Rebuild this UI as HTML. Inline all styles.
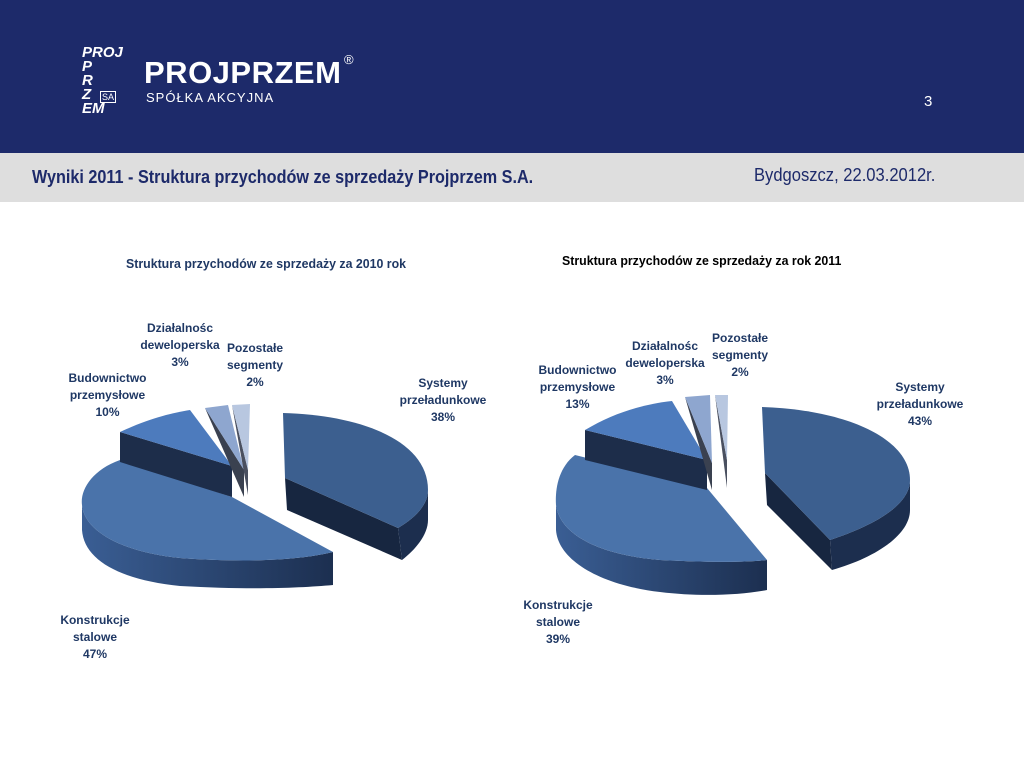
<!DOCTYPE html>
<html><head><meta charset="utf-8"><style>
body{margin:0;width:1024px;height:768px;overflow:hidden;background:#fff;font-family:"Liberation Sans",sans-serif;position:relative}
.t{position:absolute;color:#1f3864;font-weight:bold;font-size:12px;text-align:center;line-height:17px}
</style></head><body>
<div style="position:absolute;left:0;top:0;width:1024px;height:153px;background:#1d2a6a"></div>
<div style="position:absolute;left:0;top:153px;width:1024px;height:49px;background:#dedede"></div>
<div style="position:absolute;left:82px;top:46px;width:36px;height:58px;color:#fff;font:italic bold 15px/14px 'Liberation Sans',sans-serif">PROJ<br>P<br>R<br>Z<br>EM</div>
<div style="position:absolute;left:100px;top:91px;border:1px solid #fff;color:#fff;font:9px 'Liberation Sans';padding:0 1px">SA</div>
<div style="position:absolute;left:144px;top:55px;color:#fff;font:bold 31px 'Liberation Sans',sans-serif;letter-spacing:0.5px">PROJPRZEM</div>
<div style="position:absolute;left:344px;top:52px;color:#fff;font:13px 'Liberation Sans'">®</div>
<div style="position:absolute;left:146px;top:90px;color:#fff;font:13px 'Liberation Sans';letter-spacing:1px">SPÓŁKA AKCYJNA</div>
<div style="position:absolute;left:924px;top:93px;color:#fff;font:15px 'Liberation Sans'">3</div>
<div style="position:absolute;left:32px;top:167px;color:#1d2a6a;font:bold 18px 'Liberation Sans';transform:scaleX(0.9);transform-origin:left">Wyniki 2011 - Struktura przychodów ze sprzedaży Projprzem S.A.</div>
<div style="position:absolute;left:754px;top:165px;color:#1d2a6a;font:18px 'Liberation Sans';transform:scaleX(0.92);transform-origin:left">Bydgoszcz, 22.03.2012r.</div>
<div class="t" style="left:126px;top:255px;font-size:13px;transform:scaleX(0.95);transform-origin:left">Struktura przychodów ze sprzedaży za 2010 rok</div>
<div class="t" style="left:562px;top:252px;font-size:13px;color:#000;transform:scaleX(0.95);transform-origin:left">Struktura przychodów ze sprzedaży za rok 2011</div>
<svg width="1024" height="768" style="position:absolute;left:0;top:0">
<defs><linearGradient id="g" x1="0" x2="1"><stop offset="0" stop-color="#3a5e94"/><stop offset="1" stop-color="#1c2f50"/></linearGradient></defs>
<!-- left -->
<path d="M285,478 L287,510 L402,560 L398,528 Z" fill="#172640"/>
<path d="M398,528 C415,518 428,505 428,490 L428,520 C428,535 415,550 402,560 Z" fill="#1c2e4e"/>
<path d="M283,413 C360,415 428,440 428,490 C428,505 415,518 398,528 L285,478 Z" fill="#3c5f8f"/>
<path d="M82,505 C84,530 120,552 180,558 C250,563 300,560 333,552 L333,585 C300,588 250,590 180,586 C120,580 84,560 82,530 Z" fill="url(#g)"/>
<path d="M232,497 L120,460 C92,470 80,490 82,505 C84,530 120,552 180,558 C250,563 300,560 333,552 Z" fill="#4a73aa"/>
<path d="M120,432 L120,462 L232,497 L232,466 Z" fill="#1d2d4a"/>
<path d="M232,466 L120,432 C150,418 172,413 190,410 Z" fill="#4d7bbd"/>
<path d="M205,408 L244,497 L244,470 Z" fill="#3a4150"/>
<path d="M244,470 L205,408 L228,405 Z" fill="#8ea6cf"/>
<path d="M232,405 L248,495 L248,470 Z" fill="#4a5060"/>
<path d="M248,470 L232,405 L250,404 Z" fill="#b8c7e0"/>
<!-- right -->
<path d="M765,473 L767,505 L832,570 L830,540 Z" fill="#172640"/>
<path d="M830,540 C875,525 910,505 910,480 L910,510 C910,535 875,558 832,570 Z" fill="#1c2e4e"/>
<path d="M762,407 C850,410 910,440 910,480 C910,505 875,525 830,540 L765,473 Z" fill="#3c5f8f"/>
<path d="M556,505 C560,535 600,555 660,560 C720,563 750,562 767,560 L767,590 C740,595 700,597 660,592 C600,585 558,560 556,530 Z" fill="url(#g)"/>
<path d="M707,488 L575,455 C558,468 555,490 556,505 C560,535 600,555 660,560 C720,563 750,562 767,560 Z" fill="#4a73aa"/>
<path d="M585,430 L585,460 L707,490 L707,460 Z" fill="#1d2d4a"/>
<path d="M707,460 L585,430 C615,412 645,404 672,401 Z" fill="#4d7bbd"/>
<path d="M685,397 L712,490 L712,463 Z" fill="#3a4150"/>
<path d="M712,463 L685,397 L710,395 Z" fill="#8ea6cf"/>
<path d="M715,395 L727,488 L727,460 Z" fill="#4a5060"/>
<path d="M727,460 L715,395 L728,395 Z" fill="#b8c7e0"/>
</svg>
<div class="t" style="left:130px;top:320px;width:100px">Działalnośc<br>deweloperska<br>3%</div>
<div class="t" style="left:215px;top:340px;width:80px">Pozostałe<br>segmenty<br>2%</div>
<div class="t" style="left:55px;top:370px;width:105px">Budownictwo<br>przemysłowe<br>10%</div>
<div class="t" style="left:388px;top:375px;width:110px">Systemy<br>przeładunkowe<br>38%</div>
<div class="t" style="left:45px;top:612px;width:100px">Konstrukcje<br>stalowe<br>47%</div>
<div class="t" style="left:615px;top:338px;width:100px">Działalnośc<br>deweloperska<br>3%</div>
<div class="t" style="left:700px;top:330px;width:80px">Pozostałe<br>segmenty<br>2%</div>
<div class="t" style="left:525px;top:362px;width:105px">Budownictwo<br>przemysłowe<br>13%</div>
<div class="t" style="left:865px;top:379px;width:110px">Systemy<br>przeładunkowe<br>43%</div>
<div class="t" style="left:508px;top:597px;width:100px">Konstrukcje<br>stalowe<br>39%</div>
</body></html>
